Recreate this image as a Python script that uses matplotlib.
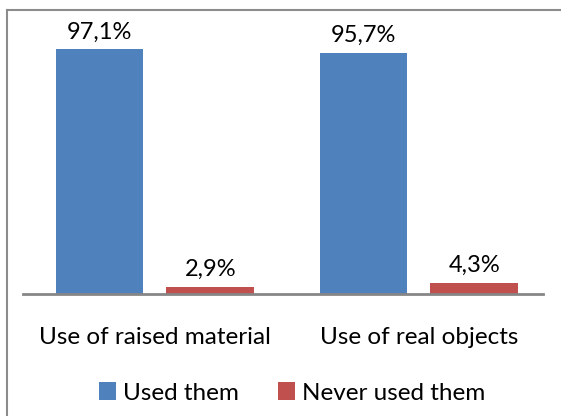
import matplotlib
matplotlib.use("Agg")
from matplotlib import pyplot as plt
from matplotlib.lines import Line2D
import numpy as np

categories = ["Use of raised material", "Use of real objects"]
used_them = [97.1, 95.7]
never_used = [2.9, 4.3]
series_names = ["Used them", "Never used them"]

plt.rcParams['font.family'] = ['Lato', 'DejaVu Sans']

W, H = 561, 416
fig = plt.figure(figsize=(W / 100, H / 100), dpi=100)

# axes placed in pixel terms
left, right, bottom, top = 23, 543, 294, 42
ax = fig.add_axes([left / W, 1 - bottom / H, (right - left) / W, (bottom - top) / H])

x = np.arange(len(categories))
w = 0.333
off = 0.21
b1 = ax.bar(x - off, used_them, w, color='#4F81BD', label=series_names[0])
b2 = ax.bar(x + off, never_used, w, color='#C0504D', label=series_names[1])

for bars, vals in [(b1, used_them), (b2, never_used)]:
    for rect, v in zip(bars, vals):
        ax.annotate(f"{v:.1f}%".replace('.', ','), (rect.get_x() + rect.get_width() / 2, v),
                    xytext=(0, 5), textcoords='offset points', ha='center', va='bottom',
                    fontsize=17, color='#000000')

ax.set_xlim(-0.5, 1.47)
ax.set_ylim(0, 100)
ax.set_yticks([])
ax.set_xticks(x)
ax.set_xticklabels(categories, fontsize=17.5)
ax.tick_params(axis='x', length=0, pad=24)
for s in ['top', 'right', 'left']:
    ax.spines[s].set_visible(False)
ax.spines['bottom'].set_color('#868686')
ax.spines['bottom'].set_linewidth(2)

fig.legend(loc='center', bbox_to_anchor=(292 / W, 1 - 393 / H), ncol=2, frameon=False,
           fontsize=17.5, handlelength=0.7, handleheight=0.7, handletextpad=0.3,
           columnspacing=1.6)

# outer chart border (left and top visible)
bx, by = 7 / W, 1 - 10 / H
fig.add_artist(Line2D([bx, 1.0], [by, by], transform=fig.transFigure, color='#8C8C8C', lw=1.5))
fig.add_artist(Line2D([bx, bx], [0, by], transform=fig.transFigure, color='#8C8C8C', lw=1.5))

fig.savefig("out.png", dpi=100)
